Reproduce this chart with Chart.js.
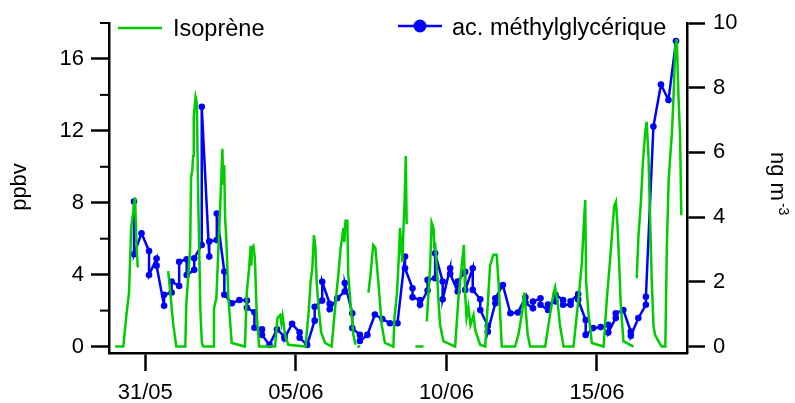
<!DOCTYPE html>
<html><head><meta charset="utf-8">
<script src="https://cdn.jsdelivr.net/npm/chart.js@4/dist/chart.umd.min.js"></script>
<style>html,body{margin:0;padding:0;background:#fff}canvas{display:block}</style>
</head><body>
<canvas id="c" width="795" height="403"></canvas>
<script>
// Time axis: days since 31/05 00:00
const isoLabel = 'Isoprène';
const mgaLabel = 'ac. méthylglycérique';
const leftTitle = 'ppbv';
const rightTitle = 'ng m';
const rightTitleSup = '-3';

const isoTime = [-1.00,-0.73,-0.63,-0.54,-0.47,-0.40,-0.34,-0.30,-0.25,0.25,
 0.76,0.83,0.93,1.03,1.33,1.36,1.43,1.49,1.52,1.56,1.59,1.61,1.67,1.71,1.76,1.83,1.88,1.93,
 2.26,2.28,2.36,2.43,2.50,2.56,2.59,2.62,2.65,2.69,2.76,2.87,
 3.31,3.37,3.45,3.50,3.52,3.55,3.59,3.64,3.70,3.78,
 4.31,4.39,4.48,4.52,4.56,4.64,4.75,
 5.32,5.42,5.49,5.55,5.60,5.63,5.65,5.69,5.75,5.84,5.97,
 6.19,6.30,6.41,6.49,6.58,6.61,6.65,6.71,6.74,6.82,6.91,6.98,7.01,7.04,7.14,7.25,
 7.41,7.48,7.57,7.64,7.74,7.85,7.96,
 8.24,8.27,8.36,8.42,8.46,8.50,8.54,8.57,8.61,8.65,8.68,8.80,8.97,9.24,9.30,
 9.35,9.46,9.51,9.57,9.60,9.62,9.68,9.73,9.79,9.90,
 10.29,10.40,10.51,10.58,10.62,10.67,10.73,10.80,10.90,10.96,11.01,11.12,
 11.29,11.36,11.45,11.56,11.67,11.73,11.84,
 12.28,12.39,12.50,12.59,12.63,12.70,12.78,
 13.28,13.44,13.55,13.61,13.69,13.77,13.89,
 14.22,14.39,14.50,14.55,14.61,14.64,14.72,14.83,
 15.22,15.33,15.44,15.53,15.57,15.63,15.68,15.74,15.79,15.88,16.21,16.26,
 16.32,16.38,16.46,16.52,16.60,16.65,16.71,16.82,16.88,16.93,17.04,17.15,
 17.27,17.32,17.38,17.43,17.49,17.54,17.60,17.65,17.71,17.76,17.80];
const isoValue = [0,0,1.7,3.0,6.6,7.5,8.3,6.0,4.4,null,
 4.2,3.0,1.2,0,0,2.3,4.0,5.5,9.4,9.8,10.6,12.8,13.9,13.6,8.0,2.0,0.2,0,
 0,2.1,2.7,5.5,8.3,11.0,9.0,10.1,7.2,6.0,2.7,0.2,
 0,3.0,4.4,5.6,4.5,5.5,5.6,4.9,1.8,0,
 0,1.6,1.75,1.3,1.7,0.65,0.1,
 0,1.8,3.6,4.4,6.2,5.8,5.5,3.6,2.3,0.8,0.2,
 0,2.1,4.0,5.5,6.6,5.8,7.0,7.0,4.0,2.3,0.65,0.1,null,0,0,null,
 3.0,4.0,5.65,5.5,3.6,1.2,0.2,
 0,1.5,3.0,5.0,6.6,5.5,4.7,6.4,8.0,10.6,6.8,null,0,0,null,
 1.4,4.5,6.9,6.6,5.5,5.8,4.5,2.7,1.2,0.3,
 0,2.7,4.5,5.65,3.0,1.6,2.2,1.2,1.75,0.9,0.65,0.1,
 0,2.0,4.5,5.1,5.1,3.6,0,
 0,0.65,1.75,3.0,2.1,0.65,0,
 0,1.75,2.9,3.3,2.5,1.2,0,
 0,2.7,4.7,6.4,8.15,3.6,1.8,0.2,
 0,2.7,4.9,6.9,7.8,8.05,6.8,4.5,2.3,0.3,0,null,
 3.8,6.2,8.05,10.1,11.9,12.5,10.65,3.6,1.1,0.65,0.3,0,
 0,5.5,9.2,10.5,11.9,13.8,16.6,17.1,13.8,11.7,7.3];

const mgaTime = [-0.375,-0.375,-0.125,0.125,0.125,0.375,0.375,0.625,0.625,0.875,0.875,
 1.125,1.125,1.375,1.375,1.625,1.625,1.875,1.875,2.125,2.125,2.375,2.375,2.625,2.625,2.875,
 3.125,3.375,3.375,3.625,3.625,3.875,3.875,4.125,4.375,4.625,4.625,4.875,
 5.125,5.125,5.375,5.625,5.625,5.875,5.875,6.125,6.125,6.375,6.625,6.625,6.875,6.875,
 7.125,7.125,7.375,7.625,7.875,8.125,8.375,8.625,8.625,8.875,8.875,
 9.125,9.125,9.375,9.375,9.625,9.625,9.875,9.875,10.125,10.125,10.375,10.375,
 10.625,10.625,10.875,10.875,11.125,11.125,11.375,11.375,11.625,11.625,11.875,
 12.125,12.375,12.625,12.625,12.875,12.875,13.125,13.125,13.375,13.375,13.625,13.625,
 13.875,13.875,14.125,14.125,14.375,14.375,14.625,14.625,14.875,
 15.125,15.375,15.375,15.625,15.625,15.875,16.125,16.125,16.375,16.625,16.625,
 16.875,17.125,17.375,17.625];
const mgaValue = [4.48,2.85,3.50,2.95,2.21,2.72,2.50,1.26,1.60,1.67,2.01,
 1.87,2.62,2.70,2.21,2.37,2.73,3.14,7.41,2.78,3.25,3.29,4.11,2.32,1.60,1.34,
 1.44,1.42,1.20,1.06,0.58,0.53,0.36,0.05,0.53,0.31,0.25,0.70,
 0.44,0.27,0.05,0.80,1.23,1.42,2.00,1.32,1.15,1.49,1.70,1.96,1.03,0.57,
 0.36,0.17,0.36,0.99,0.85,0.72,0.72,2.78,2.42,1.80,1.52,
 1.44,1.29,1.73,2.06,2.11,2.88,2.01,1.46,2.42,2.25,1.70,2.01,
 2.31,1.75,2.42,1.75,1.46,1.13,0.64,0.46,1.34,1.49,1.90,
 1.03,1.05,1.52,1.35,1.18,1.39,1.49,1.29,1.13,1.30,1.39,1.60,
 1.44,1.29,1.29,1.40,1.62,1.45,0.82,0.36,0.57,
 0.60,0.67,0.43,0.88,1.03,1.13,0.46,0.33,0.88,1.29,1.54,
 6.80,8.10,7.62,9.44];

const xTickPos = [0, 5, 10, 15];
const xTickLabels = ['31/05', '05/06', '10/06', '15/06'];
const leftTicks = [0, 4, 8, 12, 16];
const leftMinorTicks = [2, 6, 10, 14, 18];
const rightTicks = [0, 2, 4, 6, 8, 10];

const isoColor = 'rgb(0,204,0)';
const mgaColor = 'rgb(0,0,255)';
const FONT = '"Liberation Sans", Arial, Helvetica, sans-serif';

const isoData = isoTime.map((t, i) => ({x: t, y: isoValue[i]}));
const mgaData = mgaTime.map((t, i) => ({x: t, y: mgaValue[i]}));

const annot = {
  id: 'annot',
  afterDraw(chart) {
    const ctx = chart.ctx, ca = chart.chartArea, yS = chart.scales.y;
    ctx.save();
    ctx.strokeStyle = '#000'; ctx.lineWidth = 2;
    leftMinorTicks.forEach(v => {
      const py = yS.getPixelForValue(v);
      ctx.beginPath(); ctx.moveTo(ca.left - 9, py); ctx.lineTo(ca.left, py); ctx.stroke();
    });
    // legend
    ctx.font = '23.5px ' + FONT;
    ctx.textBaseline = 'alphabetic'; ctx.textAlign = 'left';
    ctx.strokeStyle = isoColor; ctx.lineWidth = 2.5;
    ctx.beginPath(); ctx.moveTo(118, 28); ctx.lineTo(162, 28); ctx.stroke();
    ctx.fillStyle = '#000'; ctx.fillText(isoLabel, 173, 36);
    ctx.strokeStyle = mgaColor; ctx.fillStyle = mgaColor;
    ctx.beginPath(); ctx.moveTo(398, 26); ctx.lineTo(442, 26); ctx.stroke();
    ctx.beginPath(); ctx.arc(420, 26, 6.5, 0, Math.PI * 2); ctx.fill();
    ctx.fillStyle = '#000'; ctx.fillText(mgaLabel, 452, 35);
    // axis titles
    ctx.font = '22px ' + FONT;
    ctx.save(); ctx.translate(20, 187); ctx.rotate(-Math.PI / 2);
    ctx.textAlign = 'center'; ctx.textBaseline = 'middle';
    ctx.fillText(leftTitle, 0, 0); ctx.restore();
    ctx.save(); ctx.translate(771, 152); ctx.rotate(Math.PI / 2);
    ctx.textAlign = 'left'; ctx.textBaseline = 'alphabetic';
    ctx.fillText(rightTitle, 0, 0);
    const w = ctx.measureText(rightTitle).width;
    ctx.font = '14px ' + FONT;
    ctx.fillText(rightTitleSup, w + 2, -8);
    ctx.restore();
    ctx.restore();
  }
};

const tickFont = {size: 22, family: FONT};
new Chart(document.getElementById('c'), {
  type: 'line',
  data: {
    datasets: [
      {label: isoLabel, data: isoData, yAxisID: 'y', borderColor: isoColor, borderWidth: 2.5,
       pointRadius: 0, spanGaps: false, tension: 0, order: 0},
      {label: mgaLabel, data: mgaData, yAxisID: 'y2', borderColor: mgaColor, backgroundColor: mgaColor,
       borderWidth: 2.5, pointRadius: 3.3, pointBorderWidth: 0, pointBackgroundColor: mgaColor, tension: 0, order: 1}
    ]
  },
  options: {
    responsive: false, animation: false, devicePixelRatio: 1,
    layout: {padding: {top: 23, left: 0, right: 0, bottom: 0}},
    plugins: {legend: {display: false}, tooltip: {enabled: false}},
    scales: {
      x: {
        type: 'linear', position: 'bottom', min: -1.205, max: 17.99,
        afterBuildTicks: s => { s.ticks = xTickPos.map(v => ({value: v})); },
        afterFit: s => { s.height = 50; },
        ticks: {callback: (v, i) => xTickLabels[i], font: tickFont, color: '#000', padding: 9,
                maxRotation: 0, autoSkip: false},
        grid: {drawOnChartArea: false, drawTicks: true, tickLength: 18, tickWidth: 2.5, tickColor: '#000'},
        border: {display: true, color: '#000', width: 2.5}
      },
      y: {
        type: 'linear', position: 'left', min: -0.36, max: 18,
        afterBuildTicks: s => { s.ticks = leftTicks.map(v => ({value: v})); },
        afterFit: s => { s.width = 109; },
        ticks: {font: tickFont, color: '#000', padding: 7},
        grid: {drawOnChartArea: false, drawTicks: true, tickLength: 18, tickWidth: 2.5, tickColor: '#000'},
        border: {display: true, color: '#000', width: 2.5}
      },
      y2: {
        type: 'linear', position: 'right', min: -0.2, max: 10,
        afterBuildTicks: s => { s.ticks = rightTicks.map(v => ({value: v})); },
        afterFit: s => { s.width = 108; },
        ticks: {font: tickFont, color: '#000', padding: 8},
        grid: {drawOnChartArea: false, drawTicks: true, tickLength: 18, tickWidth: 2.5, tickColor: '#000'},
        border: {display: true, color: '#000', width: 2.5}
      }
    }
  },
  plugins: [annot]
});
</script>
</body></html>
